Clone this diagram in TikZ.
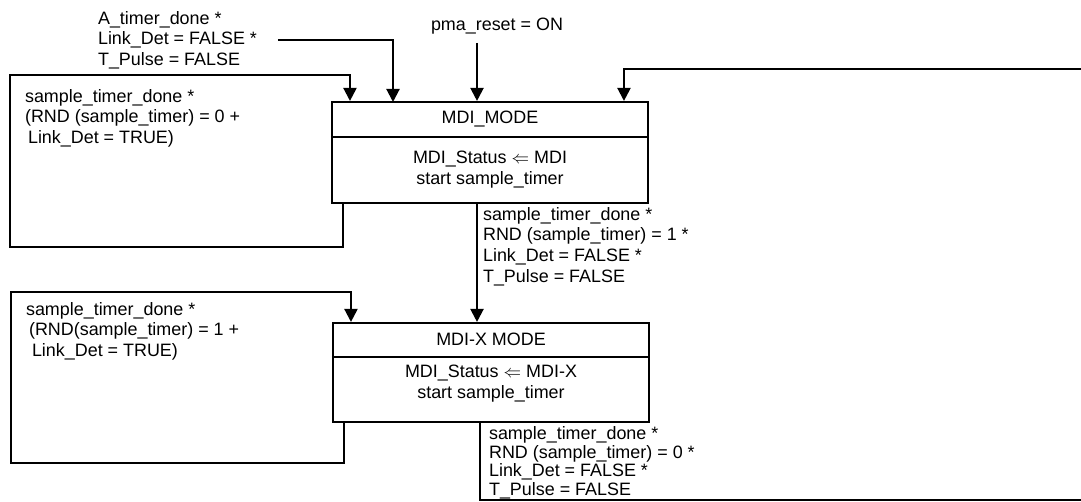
\documentclass[tikz,border=0pt]{standalone}
\usepackage{fontspec}
\setmainfont{Liberation Sans}
\usetikzlibrary{positioning,arrows.meta}

\begin{document}
\begin{tikzpicture}[x=0.02cm,y=-0.02cm,line width=1.2pt,
    font=\fontsize{10.2}{11.9}\selectfont,
    statebox/.style={draw,minimum width=6.32cm,minimum height=2.02cm,inner sep=0pt},
    cond/.style={align=left,inner sep=0pt,anchor=north west},
    arr/.style={-{Triangle[length=0.26cm,width=0.26cm]}}]
  \useasboundingbox (0,0) rectangle (1081,502);
  % the two states
  \node[statebox] (mdi) at (490,152.5) {};
  \node[statebox,minimum height=1.98cm] (mdix) at (491,372.5) {};
  \draw ([yshift=-0.72cm]mdi.north west) -- ([yshift=-0.72cm]mdi.north east);
  \draw ([yshift=-0.7cm]mdix.north west) -- ([yshift=-0.7cm]mdix.north east);
  \node (mdititle) at (490,119) {MDI\_MODE};
  \node[align=center] (mdiact) at (490,169.5) {MDI\_Status $\Leftarrow$ MDI\\start sample\_timer};
  \node (mdixtitle) at (491,339) {MDI-X MODE};
  \node[align=center] (mdixact) at (491,383.5) {MDI\_Status $\Leftarrow$ MDI-X\\start sample\_timer};
  % conditions
  \node[anchor=north] (pma) at (497,11) {pma\_reset = ON};
  \node[cond] (atimer) at (97,10) {A\_timer\_done *\\Link\_Det = FALSE *\\T\_Pulse = FALSE};
  \node[cond] (staymdi) at (24,88) {sample\_timer\_done *\\(RND (sample\_timer) = 0 +\\\hspace*{1.7pt}Link\_Det = TRUE)};
  \node[cond] (tomdix) at (482,206) {sample\_timer\_done *\\RND (sample\_timer) = 1 *\\Link\_Det = FALSE *\\T\_Pulse = FALSE};
  \node[cond] (staymdix) at (25,301) {sample\_timer\_done *\\\hspace*{1.7pt}(RND(sample\_timer) = 1 +\\\hspace*{3.4pt}Link\_Det = TRUE)};
  \node[cond,font=\fontsize{10.2}{10.8}\selectfont] (tomdi) at (488,425) {sample\_timer\_done *\\RND (sample\_timer) = 0 *\\Link\_Det = FALSE *\\T\_Pulse = FALSE};
  % transitions
  \coordinate (rst) at (477,43);
  \coordinate (ain) at (393,102);
  \coordinate (loopa) at (10,75);
  \coordinate (loopb) at (11,292);
  \coordinate (backb) at (1081,500);
  \coordinate (backt) at (1081,69);
  \draw[arr] (rst) -- (rst |- mdi.north);
  \draw[arr] ([xshift=0.4cm]atimer.east) -| (ain);
  \draw[arr] ([xshift=0.24cm]mdi.south west) -- ++(0,43) -| (loopa) -| ([xshift=0.38cm]mdi.north west);
  \draw[arr] (rst |- mdi.south) -- (rst |- mdix.north);
  \draw[arr] ([xshift=0.24cm]mdix.south west) -- ++(0,40) -| (loopb) -| ([xshift=0.38cm]mdix.north west);
  \draw ([xshift=-0.22cm]mdix.south) |- (backb);
  \draw[arr] (backt) -| ([xshift=2.68cm]mdi.north);
\end{tikzpicture}
\end{document}
